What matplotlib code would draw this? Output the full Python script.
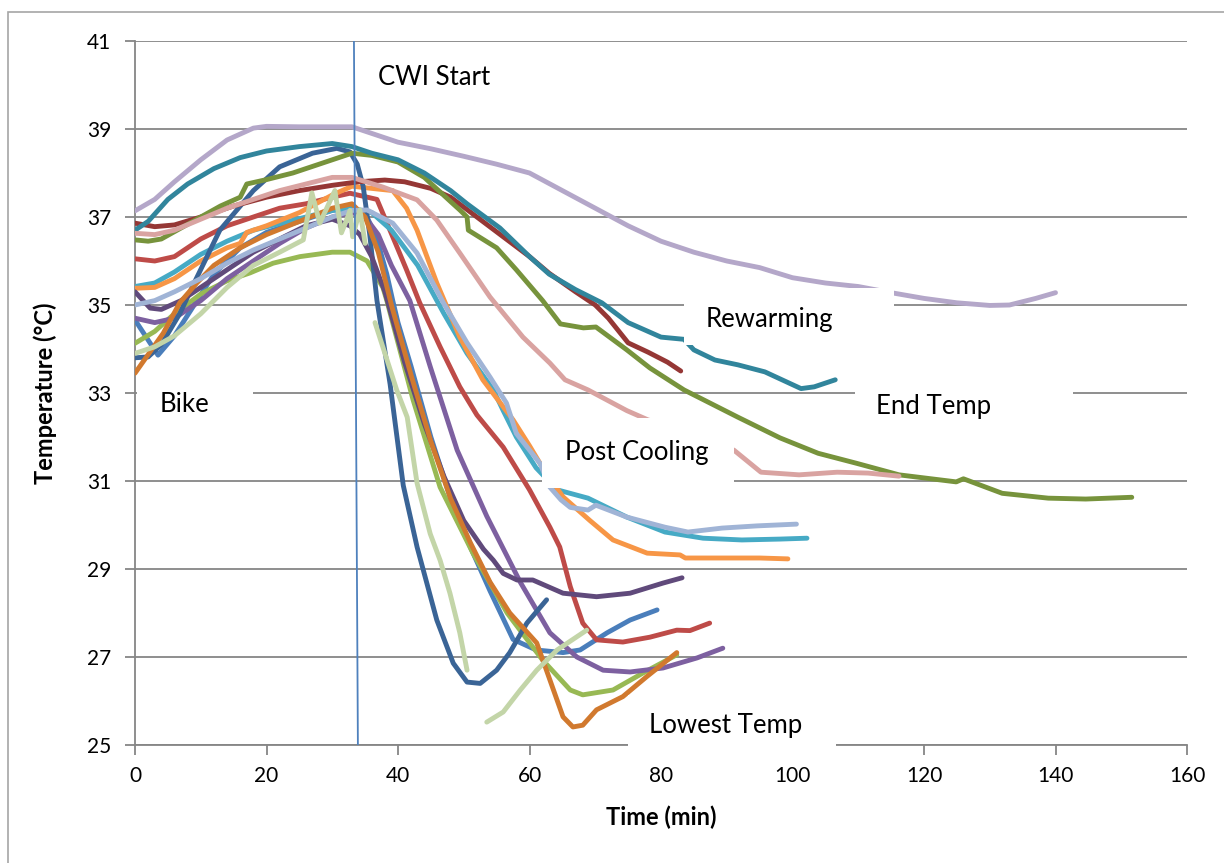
import numpy as np
import matplotlib.pyplot as plt
from matplotlib.patches import Rectangle

nan = np.nan

# time (min), temperature (degC) per participant
lpurple_t = [0, 3, 6, 10, 14, 18, 20, 25, 30, 33, 36, 40, 45, 50, 55, 60, 65, 70, 75, 80, 85, 90, 95, 100, 105, 110, 115, 120, 125, 130, 133, 137, 140]
lpurple_v = [37.14, 37.4, 37.8, 38.3, 38.75, 39.02, 39.06, 39.05, 39.05, 39.05, 38.9, 38.7, 38.55, 38.38, 38.2, 38.0, 37.6, 37.2, 36.8, 36.45, 36.2, 36.0, 35.85, 35.62, 35.5, 35.42, 35.28, 35.15, 35.05, 34.99, 35.0, 35.15, 35.28]

teal_t = [0, 2, 5, 8, 12, 16, 20, 25, 30, 33, 36, 40, 44, 48, 50.5, 55.5, 60, 63, 67, 71, 75, 80, 83.5, 85, 88.2, 91.7, 95.8, 101.3, 103.3, 106.5]
teal_v = [36.7, 36.9, 37.4, 37.75, 38.1, 38.35, 38.5, 38.6, 38.67, 38.6, 38.45, 38.3, 38.0, 37.6, 37.3, 36.75, 36.1, 35.7, 35.35, 35.05, 34.6, 34.27, 34.22, 33.98, 33.75, 33.64, 33.48, 33.1, 33.14, 33.3]

dred_t = [0, 3, 6, 10, 15, 20, 25, 30, 34, 38, 41, 45, 48, 52, 56, 60, 63, 67, 70, 72, 75, 78, 81, 83]
dred_v = [36.86, 36.78, 36.82, 37.0, 37.25, 37.45, 37.6, 37.72, 37.8, 37.84, 37.8, 37.65, 37.45, 37.0, 36.55, 36.1, 35.72, 35.3, 35.0, 34.7, 34.14, 33.93, 33.7, 33.5]

olive_t = [0, 2, 4, 7, 10, 13, 16, 17, 20, 24, 28, 31, 33, 36, 40, 44, 48, 49.4, 50.5, 50.7, 55, 58, 62, 64.7, 68.2, 70.1, 74.8, 78.3, 83.5, 91.7, 98.1, 103.9, 109.8, 116.2, 124.9, 126, 131.9, 138.9, 144.6, 151.6]
olive_v = [36.48, 36.45, 36.5, 36.75, 37.0, 37.25, 37.45, 37.75, 37.85, 38.0, 38.2, 38.35, 38.45, 38.4, 38.25, 37.9, 37.35, 37.16, 37.0, 36.7, 36.3, 35.8, 35.1, 34.57, 34.48, 34.5, 33.98, 33.57, 33.07, 32.45, 31.98, 31.63, 31.4, 31.14, 30.98, 31.05, 30.72, 30.61, 30.59, 30.63]

dblue_t = [0, 2, 4, 6.8, 9, 12.9, 18, 22, 27, 30.7, 32.7, 33.8, 34.7, 35.7, 36.8, 38.8, 40.8, 42.9, 45.9, 48.4, 50.5, 52.5, 55, 57, 59.6, 62.6]
dblue_v = [33.8, 33.82, 34.1, 34.8, 35.5, 36.7, 37.6, 38.14, 38.45, 38.56, 38.48, 38.2, 37.7, 36.6, 35.1, 33.2, 30.9, 29.5, 27.84, 26.86, 26.43, 26.4, 26.7, 27.1, 27.77, 28.3]

pink_t = [0, 3, 6, 10, 14, 18, 22, 26, 30, 33, 37.7, 42.9, 45.9, 49.4, 54, 59, 63.1, 65.4, 68.9, 74.8, 78, 82, 87, 91.1, 95.2, 101, 106.8, 111.5, 116.2]
pink_v = [36.63, 36.6, 36.7, 36.95, 37.2, 37.4, 37.6, 37.75, 37.9, 37.9, 37.68, 37.39, 36.93, 36.18, 35.18, 34.27, 33.68, 33.3, 33.07, 32.6, 32.39, 32.2, 31.95, 31.7, 31.2, 31.14, 31.2, 31.18, 31.11]

red_t = [0, 3, 6, 10, 14, 18, 22, 26, 30, 32.7, 36.8, 39.2, 41.3, 43.3, 46.4, 49.4, 52, 56, 60, 63.1, 64.6, 66.2, 68.1, 70.2, 74.2, 78.3, 82.4, 84.4, 87.4]
red_v = [36.05, 36.0, 36.1, 36.5, 36.8, 37.0, 37.2, 37.3, 37.45, 37.54, 37.4, 36.55, 35.8, 35.05, 34.05, 33.14, 32.5, 31.77, 30.8, 29.95, 29.5, 28.6, 27.77, 27.39, 27.34, 27.45, 27.61, 27.6, 27.77]

orange_t = [0, 3, 6, 10, 14, 16, 17, 20, 25, 30, 33, 36, 39.2, 41.3, 42.9, 45.9, 49.4, 52.9, 57.5, 60, 62, 65.1, 69.2, 72.7, 77.9, 82.9, 83.7, 90, 95, 99.3]
orange_v = [35.38, 35.4, 35.6, 36.0, 36.3, 36.4, 36.65, 36.8, 37.1, 37.5, 37.7, 37.65, 37.6, 37.2, 36.7, 35.5, 34.27, 33.3, 32.39, 31.8, 31.3, 30.64, 30.1, 29.66, 29.36, 29.32, 29.25, 29.25, 29.25, 29.23]

aqua_t = [0, 3, 6, 10, 14, 18, 22, 26, 30, 33, 36, 39, 43, 47, 50.5, 54.5, 56, 58, 61, 64.2, 68.9, 74.8, 80.6, 86.4, 92.3, 98.1, 102.2]
aqua_v = [35.42, 35.5, 35.75, 36.15, 36.45, 36.7, 36.85, 37.0, 37.15, 37.2, 37.1, 36.7, 35.9, 34.8, 33.9, 33.07, 32.6, 32.0, 31.3, 30.8, 30.61, 30.18, 29.84, 29.7, 29.66, 29.68, 29.7]

lblue_t = [0, 3, 6, 10, 14, 18, 22, 26, 30, 33, 35.3, 39.2, 42.9, 46.9, 50.5, 54, 56.5, 58, 61.6, 63.1, 64.8, 66.2, 68.9, 70.1, 74.8, 80.6, 84.1, 89.3, 94.6, 100.6]
lblue_v = [35.0, 35.1, 35.3, 35.6, 35.95, 36.25, 36.5, 36.75, 37.0, 37.15, 37.16, 36.86, 36.18, 35.05, 34.14, 33.36, 32.77, 32.08, 31.4, 30.86, 30.57, 30.4, 30.34, 30.45, 30.18, 29.95, 29.84, 29.93, 29.98, 30.02]

purple_t = [0, 3, 6, 10, 14, 18, 22, 26, 30, 33, 35, 37, 39, 41.8, 44.9, 49, 53.5, 58.6, 63.1, 67.2, 71.2, 75.3, 80.3, 85.5, 89.4]
purple_v = [34.7, 34.6, 34.7, 35.1, 35.6, 36.0, 36.4, 36.75, 37.0, 37.1, 37.0, 36.6, 35.9, 35.1, 33.6, 31.7, 30.2, 28.7, 27.55, 27.0, 26.7, 26.66, 26.75, 26.98, 27.2]

dpurple_t = [0, 2.3, 4, 7, 10, 14, 18, 22, 26, 30, 32.7, 34.2, 36, 38, 41, 44, 47, 50, 53, 54.5, 56, 58.1, 60.5, 65.1, 70.2, 75.3, 80.3, 83.2]
dpurple_v = [35.3, 34.93, 34.9, 35.1, 35.4, 35.8, 36.2, 36.5, 36.8, 36.95, 36.8, 36.6, 36.1, 35.3, 33.7, 32.3, 31.1, 30.1, 29.45, 29.2, 28.9, 28.75, 28.75, 28.45, 28.37, 28.45, 28.68, 28.8]

green_t = [0, 3, 6, 10, 14, 17.5, 21, 25.1, 30, 32.7, 35.3, 37.7, 38.3, 42.3, 46.4, 51.4, 56.6, 62, 66.2, 68.1, 72.7, 77.3, 82.4]
green_v = [34.13, 34.4, 34.8, 35.25, 35.55, 35.73, 35.95, 36.1, 36.2, 36.2, 36.0, 35.4, 35.1, 32.84, 30.86, 29.36, 28.0, 26.93, 26.25, 26.14, 26.25, 26.64, 27.05]

dorange_t = [0, 4.3, 6.8, 9.4, 12, 16, 20, 25, 30, 33, 35, 37, 39, 42, 45, 48, 51, 54, 57, 61.1, 63.1, 65.1, 66.6, 68.1, 70.2, 74.2, 77.8, 82.4]
dorange_v = [33.45, 34.36, 35.05, 35.5, 35.9, 36.3, 36.6, 36.9, 37.2, 37.3, 37.0, 36.2, 35.0, 33.4, 31.9, 30.6, 29.6, 28.7, 28.0, 27.32, 26.48, 25.64, 25.41, 25.45, 25.8, 26.1, 26.55, 27.1]

blue_t = [0, 3.5, 6, 9, 12, 16, 20, 25, 30, 33, 35, 36.8, 38.3, 39.2, 40, 42, 45, 48, 51, 54, 57.5, 61, 65.1, 67.7, 71.8, 75.3, 79.4]
blue_v = [34.66, 33.86, 34.3, 35.0, 35.7, 36.3, 36.65, 36.9, 37.15, 37.2, 37.1, 36.5, 35.7, 35.1, 34.6, 33.6, 32.0, 30.6, 29.5, 28.5, 27.4, 27.16, 27.1, 27.16, 27.55, 27.84, 28.07]

lgreen_t = [0, 3, 6, 10, 14, 18, 22, 25.6, 26.9, 28.1, 30.4, 31.4, 32.1, 32.7, 33.1, 34.2, 35.0, nan,
            36.5, 39.8, 41.4, 42.9, 44.9, 46.4, 47.9, 49.4, 50.5, nan,
            53.5, 56, 58.6, 61.1, 64.2, 68.7]
lgreen_v = [33.9, 34.05, 34.3, 34.8, 35.4, 35.9, 36.2, 36.48, 37.55, 36.86, 37.6, 36.64, 36.9, 37.15, 36.55, 37.16, 36.4, nan,
            34.6, 33.07, 32.45, 30.95, 29.8, 29.2, 28.45, 27.55, 26.7, nan,
            25.52, 25.75, 26.25, 26.7, 27.16, 27.61]

series = [
    (blue_t, blue_v, '#4A7EBB'),
    (red_t, red_v, '#BE4B48'),
    (green_t, green_v, '#98B954'),
    (purple_t, purple_v, '#7D60A0'),
    (aqua_t, aqua_v, '#46AAC5'),
    (orange_t, orange_v, '#F79646'),
    (dblue_t, dblue_v, '#3A6496'),
    (dred_t, dred_v, '#953735'),
    (olive_t, olive_v, '#77933C'),
    (dpurple_t, dpurple_v, '#604A7B'),
    (teal_t, teal_v, '#31859C'),
    (dorange_t, dorange_v, '#D1792E'),
    (lblue_t, lblue_v, '#A0B4D6'),
    (pink_t, pink_v, '#D9A3A1'),
    (lgreen_t, lgreen_v, '#C3D5A8'),
    (lpurple_t, lpurple_v, '#B4A7C9'),
]

# phase labels: text, x, y, box (x0, x1, y0, y1) in data units
labels = [
    ('Bike', 3.8, 32.73, (0.3, 17.9, 31.93, 33.34)),
    ('CWI Start', 37.0, 40.16, None),
    ('Rewarming', 86.8, 34.66, (83.5, 115.4, 34.09, 35.39)),
    ('End Temp', 112.7, 32.70, (109.5, 142.7, 31.93, 33.41)),
    ('Post Cooling', 65.4, 31.64, (61.9, 91.1, 30.84, 32.43)),
    ('Lowest Temp', 78.2, 25.45, (75.0, 106.6, 24.6, 26.14)),
]

plt.rcParams['font.family'] = ['Lato', 'DejaVu Sans']

fig = plt.figure(figsize=(12.24, 8.63), dpi=100)
ax = fig.add_axes([135 / 1224, 1 - 745 / 863, (1187 - 135) / 1224, (745 - 41) / 863])

fig.patches.append(Rectangle((8 / 1224, -0.01), 1.0, (863 - 12) / 863 + 0.01,
                             transform=fig.transFigure, fill=False,
                             ec='#A6A6A6', lw=1.2))

for t, v, c in series:
    ax.plot(t, v, color=c, lw=3.5, solid_capstyle='round', solid_joinstyle='round', zorder=3)

# CWI start marker
ax.plot([33.3, 33.9], [41, 25], color='#4F81BD', lw=1.3, zorder=4)

for txt, x, y, box in labels:
    if box is not None:
        x0, x1, y0, y1 = box
        ax.add_patch(Rectangle((x0, y0), x1 - x0, y1 - y0, fc='white', ec='none',
                               zorder=5, clip_on=False))
    ax.text(x, y, txt, fontsize=18.5, ha='left', va='center', zorder=6)

ax.set_xlim(0, 160)
ax.set_ylim(25, 41)
ax.set_xticks(np.arange(0, 161, 20))
ax.set_yticks(np.arange(25, 42, 2))
ax.yaxis.grid(True, color='#868686', lw=1.3)
ax.set_axisbelow(True)
for s in ['top', 'right']:
    ax.spines[s].set_visible(False)
for s in ['left', 'bottom']:
    ax.spines[s].set_color('#868686')
    ax.spines[s].set_linewidth(1.3)
ax.tick_params(direction='out', length=7, width=1.3, color='#868686',
               labelsize=15, pad=8)
ax.tick_params(axis='y', pad=10)
ax.set_xlabel('Time (min)', fontsize=17, fontweight='bold', labelpad=14)
ax.set_ylabel('Temperature (°C)', fontsize=17, fontweight='bold', labelpad=22)

fig.savefig('out.png', dpi=100)
